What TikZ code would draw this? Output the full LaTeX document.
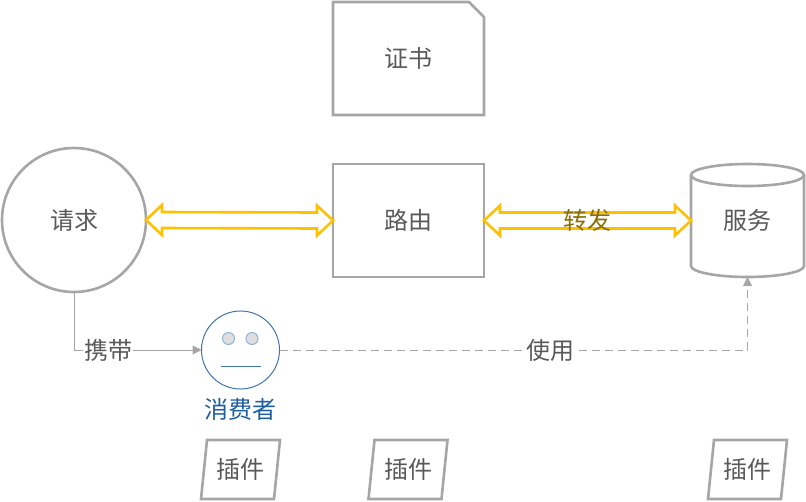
\documentclass[tikz,border=0pt]{standalone}
\usepackage{fontspec}
\newfontfamily\cjk{Noto Sans CJK SC}
\usetikzlibrary{calc,arrows.meta}
\definecolor{shapegray}{HTML}{A6A6A6}
\definecolor{txtgray}{HTML}{595959}
\definecolor{gold}{HTML}{FFC000}
\definecolor{goldtxt}{HTML}{8C6D00}
\definecolor{facebl}{HTML}{3F75AB}
\definecolor{eyebl}{HTML}{8FB4DA}
\definecolor{namebl}{HTML}{1F5F9E}
\definecolor{conn}{HTML}{A6A6A6}
\tikzset{
  x=1pt,y=-1pt,
  every node/.style={font=\cjk\fontsize{24}{24}\selectfont,text=txtgray,inner sep=0pt,outer sep=0pt},
  boxed/.style={minimum width=151pt,minimum height=113pt},
  thick gray/.style={draw=shapegray,line width=2.6pt},
  biarrow/.style={draw=gold,line width=2.6pt,miter limit=4},
  lbl/.style={fill=white,inner xsep=1pt},
  thin conn/.style={draw=conn,line width=1pt},
  tip/.style={-{Triangle[length=9pt,width=9pt]}}
}
\newcommand{\biarr}[2]{%
  \draw[biarrow] (#1) -- ($(#1)+(16,-15)$) -- ($(#1)+(16,-8)$) -- ($(#2)+(-16,-8)$) -- ($(#2)+(-16,-15)$) -- (#2)
   -- ($(#2)+(-16,15)$) -- ($(#2)+(-16,8)$) -- ($(#1)+(16,8)$) -- ($(#1)+(16,15)$) -- cycle;}
\begin{document}
\begin{tikzpicture}
\useasboundingbox (0,0) rectangle (806,501);
% certificate
\node[boxed] (cert) at (408.5,58.5) {\raisebox{1pt}{证书}};
\draw[thick gray,line join=miter] (cert.north west) -- ($(cert.north east)+(-15,0)$) -- ($(cert.north east)+(0,15)$) -- (cert.south east) -- (cert.south west) -- cycle;
% route
\node[boxed] (route) at (408.5,220.5) {路由};
\draw[thick gray] (route.north west) -- (route.north) -- (route.north east) -- (route.east) -- (route.south east) -- (route.south) -- (route.south west) -- (route.west) -- cycle;
% request
\node[circle,minimum size=144pt] (req) at (74,220) {请求};
\draw[thick gray] (req.center) circle [radius=72];
% service
\node[minimum width=113pt,minimum height=113pt] (svc) at (747.5,220.5) {服务};
\draw[thick gray] ($(svc.north west)+(0,11)$) -- ($(svc.south west)+(0,-11)$)
  .. controls ($(svc.south west)+(0,-5)$) and ($(svc.south)+(-31,0)$) .. (svc.south)
  .. controls ($(svc.south)+(31,0)$) and ($(svc.south east)+(0,-5)$) .. ($(svc.south east)+(0,-11)$)
  -- ($(svc.north east)+(0,11)$);
\draw[thick gray] ($(svc.north)+(0,11)$) ellipse [x radius=56.5,y radius=11];
% consumer
\node[draw=facebl,line width=1pt,circle,minimum size=78pt] (face) at (240.5,350) {};
\node[draw=eyebl,fill=black!13,line width=1pt,circle,minimum size=12pt] (eyeL) at (228.5,338.5) {};
\node[draw=eyebl,fill=black!13,line width=1pt,circle,minimum size=12pt] (eyeR) at (252,338.5) {};
\draw[facebl,line width=1pt] ($(face.center)+(-20,16)$) -- ($(face.center)+(20,16)$);
\node[text=namebl] (name) at (240.5,409) {消费者};
% plugins
\foreach \n/\cx in {p1/240.5,p2/408,p3/747.5}{
  \node[minimum width=60pt,minimum height=59pt] (\n) at (\cx,469.5) {\raisebox{1pt}{插件}};
  \draw[thick gray] ($(\n.center)+(-33.5,-29.5)$) -- ($(\n.center)+(39.5,-29.5)$) -- ($(\n.center)+(33.5,29.5)$) -- ($(\n.center)+(-39.5,29.5)$) -- cycle;
}
% double arrows
\biarr{req.east}{route.west}
\biarr{route.east}{svc.west}
\node[text=goldtxt] (fwd) at (587,220.5) {转发};
% connectors
\draw[thin conn,tip] (req.south) |- (face.west);
\node[lbl] (carry) at (108,350) {携带};
\draw[thin conn,dash pattern=on 8pt off 5pt,tip] (face.east) -| (svc.south);
\node[lbl] (use) at (550,350) {使用};
\end{tikzpicture}
\end{document}
